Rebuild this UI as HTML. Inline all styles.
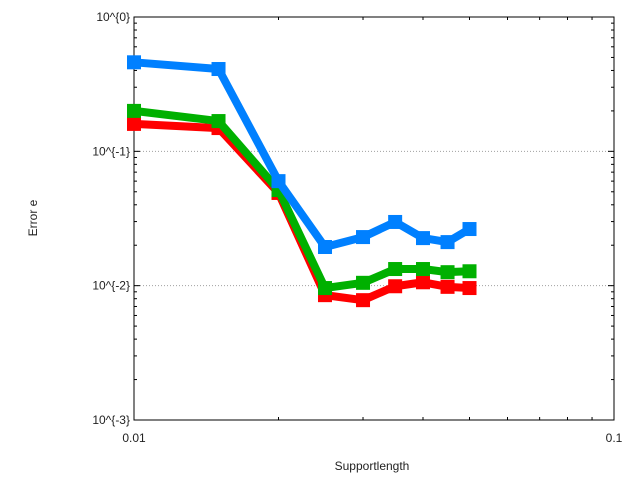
<!DOCTYPE html>
<html><head><meta charset="utf-8"><style>
html,body{margin:0;padding:0;background:#fff;}
svg{display:block;font-family:"Liberation Sans",sans-serif;font-size:12px;}
</style></head><body>
<svg id="chart" width="640" height="480" viewBox="0 0 640 480" xmlns="http://www.w3.org/2000/svg">
<rect x="0" y="0" width="640" height="480" fill="#fff"/>
<g id="grid"></g>
<g id="axes"></g>
<g id="series"></g>
<text x="372" y="470" text-anchor="middle" fill="#222">Supportlength</text>
<text x="37" y="218" text-anchor="middle" fill="#222" transform="rotate(-90 37 218)">Error e</text>
</svg>
<script>
const xValues = [0.01, 0.015, 0.02, 0.025, 0.03, 0.035, 0.04, 0.045, 0.05];
const blueValues = [0.46, 0.41, 0.060, 0.0194, 0.023, 0.0298, 0.0226, 0.0211, 0.0264];
const greenValues = [0.20, 0.168, 0.0515, 0.0096, 0.0105, 0.0133, 0.0133, 0.0126, 0.0128];
const redValues = [0.16, 0.149, 0.049, 0.0085, 0.0078, 0.0099, 0.0106, 0.0098, 0.0096];
const yTickExps = [0, -1, -2, -3];
const yTickLabels = ["10^{0}", "10^{-1}", "10^{-2}", "10^{-3}"];
const xTickValues = [0.01, 0.1];
const xTickLabels = ["0.01", "0.1"];

const L=134,R=614,T=17,B=420;
const NS="http://www.w3.org/2000/svg";
function xs(v){return L+(Math.log10(v)+2)*(R-L);}
function ys(v){return T+(0-Math.log10(v))/3*(B-T);}
function mk(tag,attrs,parent){const e=document.createElementNS(NS,tag);for(const k in attrs)e.setAttribute(k,attrs[k]);parent.appendChild(e);return e;}
const grid=document.getElementById('grid'),axes=document.getElementById('axes'),ser=document.getElementById('series');

yTickExps.forEach((e,i)=>{
  const y=ys(Math.pow(10,e));
  if(e<0&&e>-3){const g=mk('line',{x1:L,x2:R,y1:y,y2:y,stroke:'#a0a0a0','stroke-dasharray':'1,2','stroke-width':1},grid);
  
  }
  const t=mk('text',{x:L-4,y:y+4,'text-anchor':'end',fill:'#222'},axes);t.textContent=yTickLabels[i];
  
  
  mk('line',{x1:L,x2:L+6,y1:y,y2:y,stroke:'#000'},axes);
  mk('line',{x1:R,x2:R-6,y1:y,y2:y,stroke:'#000'},axes);
  if(e>-3){for(let m=2;m<10;m++){const yy=ys(m*Math.pow(10,e-1));
    mk('line',{x1:L,x2:L+3,y1:yy,y2:yy,stroke:'#000'},axes);
    mk('line',{x1:R,x2:R-3,y1:yy,y2:yy,stroke:'#000'},axes);}}
});
xTickValues.forEach((v,i)=>{
  const x=xs(v);
  const t=mk('text',{x:x,y:B+22,'text-anchor':'middle',fill:'#222'},axes);t.textContent=xTickLabels[i];
  
  
  mk('line',{x1:x,x2:x,y1:B,y2:B-6,stroke:'#000'},axes);
  mk('line',{x1:x,x2:x,y1:T,y2:T+6,stroke:'#000'},axes);
});
for(let m=2;m<10;m++){const x=xs(m*0.01);
  mk('line',{x1:x,x2:x,y1:B,y2:B-3,stroke:'#000'},axes);
  mk('line',{x1:x,x2:x,y1:T,y2:T+3,stroke:'#000'},axes);}
mk('rect',{x:L,y:T,width:R-L,height:B-T,fill:'none',stroke:'#000'},axes);

function drawSeries(vals,color,name){
  const g=mk('g',{},ser);
  
  
  const pts=vals.map((v,i)=>xs(xValues[i])+','+ys(v)).join(' ');
  mk('polyline',{points:pts,fill:'none',stroke:color,'stroke-width':8,'stroke-linejoin':'round'},g);
  vals.forEach((v,i)=>{
    const r=mk('rect',{x:xs(xValues[i])-7,y:ys(v)-7,width:14,height:14,fill:color},g);
    
    
  });
}
drawSeries(redValues,'#ff0000','red-series');
drawSeries(greenValues,'#00b000','green-series');
drawSeries(blueValues,'#0080ff','blue-series');
</script>
</body></html>
